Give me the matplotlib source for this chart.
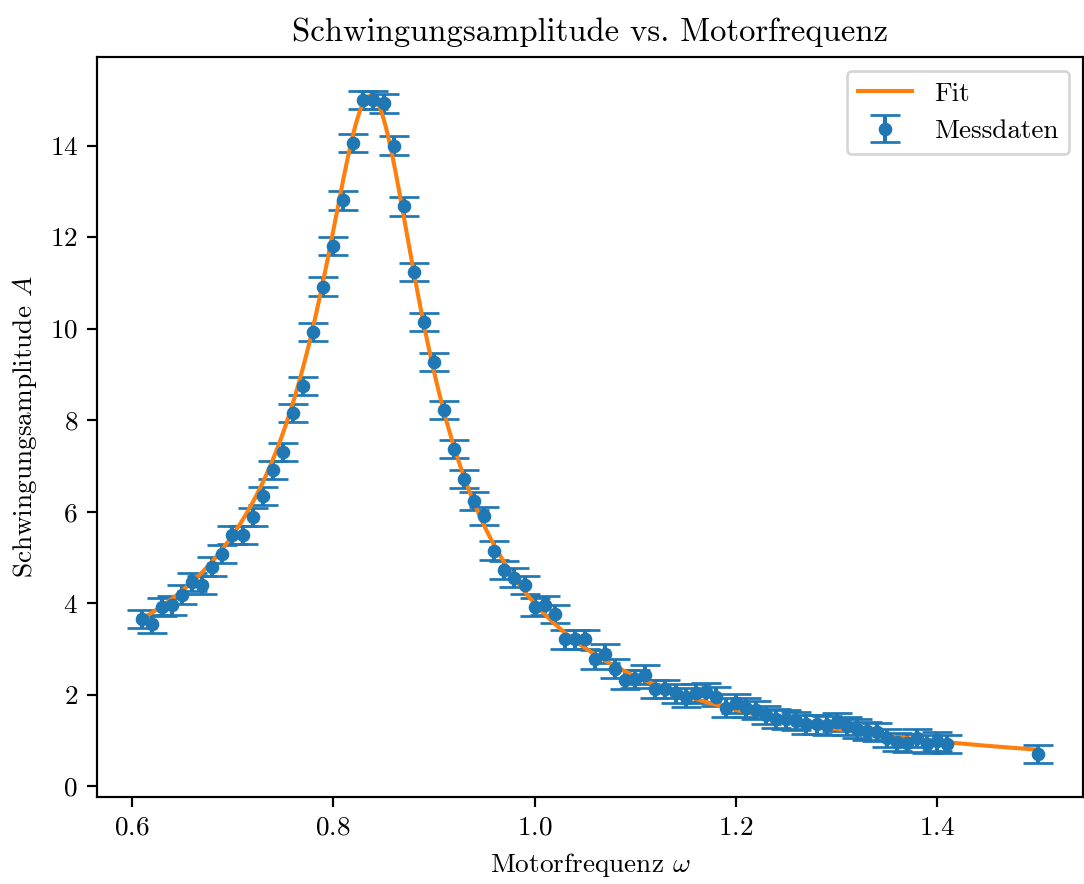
import numpy as np
import matplotlib
matplotlib.use("Agg")
import matplotlib.pyplot as plt

plt.rcParams['font.family'] = 'serif'
plt.rcParams['font.serif'] = ['cmr10']
plt.rcParams['mathtext.fontset'] = 'cm'
plt.rcParams['axes.formatter.use_mathtext'] = True

omega = np.round(np.concatenate([np.arange(0.61, 1.415, 0.01), [1.50]]), 2)
amplitude = np.array([
    3.66, 3.55, 3.92, 3.95, 4.19, 4.47, 4.40, 4.80, 5.08, 5.49,
    5.49, 5.89, 6.35, 6.91, 7.30, 8.16, 8.74, 9.92, 10.92, 11.80,
    12.80, 14.06, 15.00, 15.00, 14.92, 14.00, 12.67, 11.23, 10.14, 9.27,
    8.22, 7.37, 6.72, 6.24, 5.91, 5.15, 4.73, 4.56, 4.40, 3.92,
    3.95, 3.77, 3.21, 3.21, 3.21, 2.77, 2.90, 2.57, 2.33, 2.35,
    2.44, 2.12, 2.12, 2.03, 1.94, 2.03, 2.05, 1.96, 1.72, 1.81,
    1.72, 1.66, 1.55, 1.48, 1.46, 1.42, 1.35, 1.35, 1.33, 1.40,
    1.31, 1.26, 1.20, 1.18, 1.05, 0.96, 0.95, 1.05, 0.92, 0.98,
    0.92, 0.70,
])
amp_err = 0.2

# Fitparameter
F0 = 1.24
w0 = 0.84
gamma = 0.098


def resonanz(w, F, w0, g):
    return F / np.sqrt((w0**2 - w**2)**2 + (g * w)**2)


w_fit = np.linspace(omega.min(), omega.max(), 500)

dpi = 196
fig, ax = plt.subplots(figsize=(1084 / dpi, 884 / dpi), dpi=dpi)
fig.subplots_adjust(left=0.0895, right=0.999, top=0.9355, bottom=0.0984)

ax.errorbar(omega, amplitude, yerr=amp_err, fmt='o', markersize=4,
            capsize=5.5, color='C0', label='Messdaten')
ax.plot(w_fit, resonanz(w_fit, F0, w0, gamma), color='C1', label='Fit')

ax.set_xlabel(r'Motorfrequenz $\omega$')
ax.set_ylabel(r'Schwingungsamplitude $A$')
ax.set_title('Schwingungsamplitude vs. Motorfrequenz')
ax.set_xticks([0.6, 0.8, 1.0, 1.2, 1.4])
ax.legend(loc='upper right')

fig.savefig('out.png', dpi=dpi)
